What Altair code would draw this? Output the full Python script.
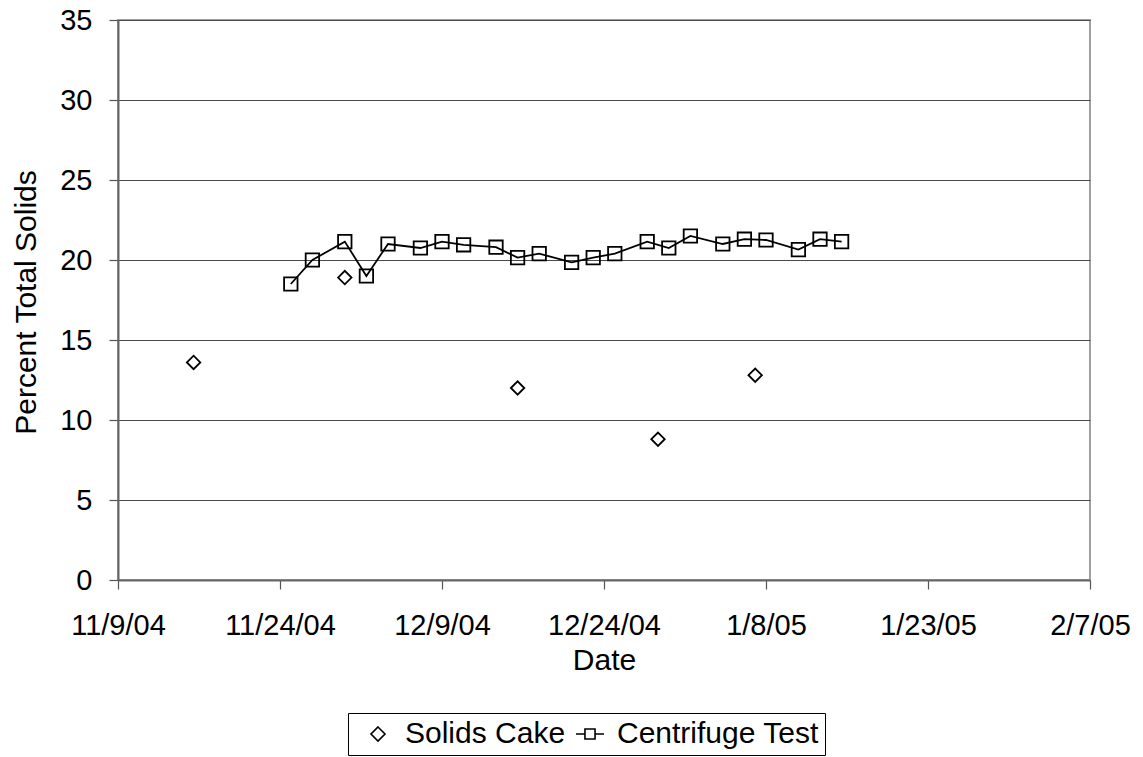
import altair as alt
import pandas as pd

# Solids cake samples
cake_dates = ["2004-11-16", "2004-11-30", "2004-12-16", "2004-12-29", "2005-01-07"]
cake_values = [13.6, 18.9, 12.0, 8.8, 12.8]

# Centrifuge test samples
cent_dates = [
    "2004-11-25", "2004-11-27", "2004-11-30", "2004-12-02", "2004-12-04",
    "2004-12-07", "2004-12-09", "2004-12-11", "2004-12-14", "2004-12-16",
    "2004-12-18", "2004-12-21", "2004-12-23", "2004-12-25", "2004-12-28",
    "2004-12-30", "2005-01-01", "2005-01-04", "2005-01-06", "2005-01-08",
    "2005-01-11", "2005-01-13", "2005-01-15",
]
cent_values = [
    18.5, 20.0, 21.15, 19.0, 21.0,
    20.75, 21.15, 20.95, 20.8, 20.15,
    20.4, 19.85, 20.15, 20.4, 21.15,
    20.75, 21.5, 21.0, 21.3, 21.25,
    20.65, 21.3, 21.15,
]

series = ["Solids Cake", "Centrifuge Test"]
tick_dates = [(2004, 11, 9), (2004, 11, 24), (2004, 12, 9), (2004, 12, 24),
              (2005, 1, 8), (2005, 1, 23), (2005, 2, 7)]
y_ticks = [0, 5, 10, 15, 20, 25, 30, 35]

FONT = "Liberation Sans"
FS = 29

cake = pd.DataFrame({"date": pd.to_datetime(cake_dates), "value": cake_values,
                     "series": series[0]})
cent = pd.DataFrame({"date": pd.to_datetime(cent_dates), "value": cent_values,
                     "series": series[1]})
points = pd.concat([cake, cent], ignore_index=True)
points["key"] = points["series"]

dt = lambda t: alt.DateTime(year=t[0], month=t[1], date=t[2])

x_enc = alt.X(
    "date:T",
    scale=alt.Scale(domain=[dt(tick_dates[0]), dt(tick_dates[-1])], nice=False),
    axis=alt.Axis(
        title="Date", values=[dt(t) for t in tick_dates], format="%-m/%-d/%y",
        grid=False, tickSize=9, labelPadding=22,
        titleY=89, titleBaseline="alphabetic",
        labelFlush=False, labelOverlap=False,
    ),
)
y_enc = alt.Y(
    "value:Q",
    scale=alt.Scale(domain=[0, 35], nice=False),
    axis=alt.Axis(
        title="Percent Total Solids", values=y_ticks, grid=True, tickSize=9,
        labelPadding=17, titleX=-83, titleY=282, titleAlign="center",
        titleBaseline="alphabetic", titleFontSize=30,
    ),
)

line = alt.Chart(cent).mark_line(color="black", strokeWidth=1.8).encode(x=x_enc, y=y_enc)

# plotted markers (no legend of their own)
marks = alt.Chart(points).mark_point(
    filled=False, color="black", strokeWidth=1.8, size=180, opacity=1
).encode(
    x=x_enc,
    y=y_enc,
    shape=alt.Shape(
        "series:N",
        scale=alt.Scale(domain=series, range=["diamond", "square"]),
        legend=None,
    ),
)

# legend keys: diamond, and a square with line stubs for the connected series
legend_paths = [
    "M0,-0.5L0.5,0L0,0.5L-0.5,0Z",
    "M-1,0H-0.36M0.36,0H1M-0.36,-0.36H0.36V0.36H-0.36Z",
]
keys = alt.Chart(points).mark_point(
    filled=False, color="black", strokeWidth=1.6, size=180, opacity=0
).encode(
    x=x_enc,
    y=y_enc,
    shape=alt.Shape(
        "key:N",
        scale=alt.Scale(domain=series, range=legend_paths),
        legend=alt.Legend(
            title=None, orient="none", legendX=230, legendY=693,
            direction="horizontal", strokeColor="black", fillColor="white",
            padding=6, symbolSize=784, symbolStrokeColor="black",
            symbolStrokeWidth=1.6, symbolFillColor="transparent",
            symbolOpacity=1, labelLimit=500,
            labelFont=FONT, labelFontSize=30, labelColor="black",
            labelOffset=12, columnPadding=0, symbolOffset=9,
        ),
    ),
)

chart = (
    alt.layer(line, marks, keys)
    .resolve_scale(shape="independent")
    .properties(
        width=972, height=560,
        padding={"left": 118, "top": 20, "right": 53, "bottom": 177},
        autosize=alt.AutoSizeParams(type="none"),
        background="white",
    )
    .configure_view(stroke="#a0a0a0", strokeWidth=2)
    .configure_axis(
        labelFont=FONT, titleFont=FONT, labelFontSize=FS, titleFontSize=30,
        titleFontWeight="normal", labelColor="black", titleColor="black",
        domainColor="#666666", tickColor="#555555", gridColor="#4a4a4a",
        domainWidth=2, tickWidth=1.2, gridWidth=1,
    )
)

chart.save("out.html", embed_options={"renderer": "svg", "actions": False})
